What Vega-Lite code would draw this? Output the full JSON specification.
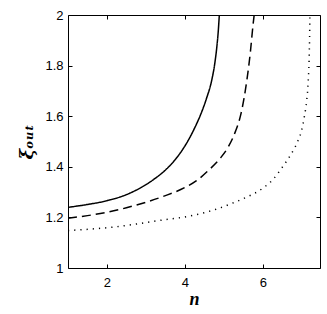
{
  "$schema": "https://vega.github.io/schema/vega-lite/v6.json",
  "autosize": "none",
  "padding": {"left": 68, "top": 15, "right": 7, "bottom": 46},
  "width": 252,
  "height": 253,
  "background": "white",
  "config": {
    "view": {"stroke": "black", "strokeWidth": 1},
    "axis": {
      "domain": false,
      "grid": false,
      "tickColor": "black",
      "tickSize": -4,
      "labelColor": "black",
      "labelFont": "Liberation Sans",
      "labelFontSize": 13,
      "titleColor": "black"
    }
  },
  "data": {
    "values": [
      {"curve": "a", "n": 1.0, "xi": 1.240},
      {"curve": "a", "n": 1.5, "xi": 1.251},
      {"curve": "a", "n": 2.0, "xi": 1.266},
      {"curve": "a", "n": 2.5, "xi": 1.290},
      {"curve": "a", "n": 2.85, "xi": 1.316},
      {"curve": "a", "n": 3.2, "xi": 1.350},
      {"curve": "a", "n": 3.52, "xi": 1.390},
      {"curve": "a", "n": 3.75, "xi": 1.428},
      {"curve": "a", "n": 3.95, "xi": 1.470},
      {"curve": "a", "n": 4.1, "xi": 1.508},
      {"curve": "a", "n": 4.25, "xi": 1.553},
      {"curve": "a", "n": 4.42, "xi": 1.612},
      {"curve": "a", "n": 4.56, "xi": 1.672},
      {"curve": "a", "n": 4.69, "xi": 1.742},
      {"curve": "a", "n": 4.77, "xi": 1.810},
      {"curve": "a", "n": 4.82, "xi": 1.872},
      {"curve": "a", "n": 4.86, "xi": 1.940},
      {"curve": "a", "n": 4.885, "xi": 2.0},
      {"curve": "b", "n": 1.0, "xi": 1.197},
      {"curve": "b", "n": 1.5, "xi": 1.207},
      {"curve": "b", "n": 2.0, "xi": 1.220},
      {"curve": "b", "n": 2.5, "xi": 1.238},
      {"curve": "b", "n": 3.0, "xi": 1.260},
      {"curve": "b", "n": 3.5, "xi": 1.286},
      {"curve": "b", "n": 4.0, "xi": 1.318},
      {"curve": "b", "n": 4.3, "xi": 1.345},
      {"curve": "b", "n": 4.6, "xi": 1.385},
      {"curve": "b", "n": 4.9, "xi": 1.432},
      {"curve": "b", "n": 5.12, "xi": 1.480},
      {"curve": "b", "n": 5.30, "xi": 1.540},
      {"curve": "b", "n": 5.44, "xi": 1.609},
      {"curve": "b", "n": 5.59, "xi": 1.740},
      {"curve": "b", "n": 5.68, "xi": 1.850},
      {"curve": "b", "n": 5.75, "xi": 1.960},
      {"curve": "b", "n": 5.78, "xi": 2.0},
      {"curve": "c", "n": 1.0, "xi": 1.148},
      {"curve": "c", "n": 1.6, "xi": 1.154},
      {"curve": "c", "n": 2.24, "xi": 1.163},
      {"curve": "c", "n": 2.85, "xi": 1.176},
      {"curve": "c", "n": 3.26, "xi": 1.186},
      {"curve": "c", "n": 4.14, "xi": 1.206},
      {"curve": "c", "n": 4.8, "xi": 1.232},
      {"curve": "c", "n": 5.25, "xi": 1.258},
      {"curve": "c", "n": 5.6, "xi": 1.281},
      {"curve": "c", "n": 6.0, "xi": 1.315},
      {"curve": "c", "n": 6.25, "xi": 1.348},
      {"curve": "c", "n": 6.51, "xi": 1.400},
      {"curve": "c", "n": 6.72, "xi": 1.448},
      {"curve": "c", "n": 6.91, "xi": 1.505},
      {"curve": "c", "n": 7.0, "xi": 1.545},
      {"curve": "c", "n": 7.07, "xi": 1.600},
      {"curve": "c", "n": 7.13, "xi": 1.664},
      {"curve": "c", "n": 7.165, "xi": 1.730},
      {"curve": "c", "n": 7.19, "xi": 1.820},
      {"curve": "c", "n": 7.203, "xi": 1.910},
      {"curve": "c", "n": 7.21, "xi": 1.990}
    ]
  },
  "layer": [
    {
      "mark": {"type": "line", "color": "black", "strokeWidth": 1.5, "clip": true, "interpolate": "monotone"},
      "encoding": {
        "x": {
          "field": "n", "type": "quantitative",
          "scale": {"domain": [1, 7.47], "nice": false, "zero": false},
          "axis": {"values": [2, 4, 6], "format": "~g", "labelPadding": 12, "title": "n",
                   "titleFont": "Liberation Serif", "titleFontStyle": "italic", "titleFontWeight": "bold",
                   "titleFontSize": 18, "titlePadding": 1}
        },
        "y": {
          "field": "xi", "type": "quantitative",
          "scale": {"domain": [1, 2], "nice": false, "zero": false},
          "axis": {"values": [1, 1.2, 1.4, 1.6, 1.8, 2], "format": "~g", "labelPadding": 9, "title": "ξₒᵤₜ",
                   "titleFont": "DejaVu Serif", "titleFontStyle": "italic", "titleFontWeight": "bold",
                   "titleFontSize": 18, "titlePadding": 8}
        },
        "strokeDash": {
          "field": "curve", "type": "nominal",
          "scale": {"domain": ["a", "b", "c"], "range": [[1, 0], [9, 5], [1.2, 5]]},
          "legend": null
        },
        "detail": {"field": "curve"}
      }
    },
    {
      "mark": {"type": "point", "opacity": 0},
      "encoding": {
        "x": {
          "field": "n", "type": "quantitative",
          "scale": {"domain": [1, 7.47], "nice": false, "zero": false},
          "axis": {"orient": "top", "values": [2, 4, 6], "labels": false, "title": null}
        },
        "y": {
          "field": "xi", "type": "quantitative",
          "scale": {"domain": [1, 2], "nice": false, "zero": false},
          "axis": {"orient": "right", "values": [1, 1.2, 1.4, 1.6, 1.8, 2], "labels": false, "title": null}
        }
      }
    }
  ],
  "resolve": {"axis": {"x": "independent", "y": "independent"}}
}
